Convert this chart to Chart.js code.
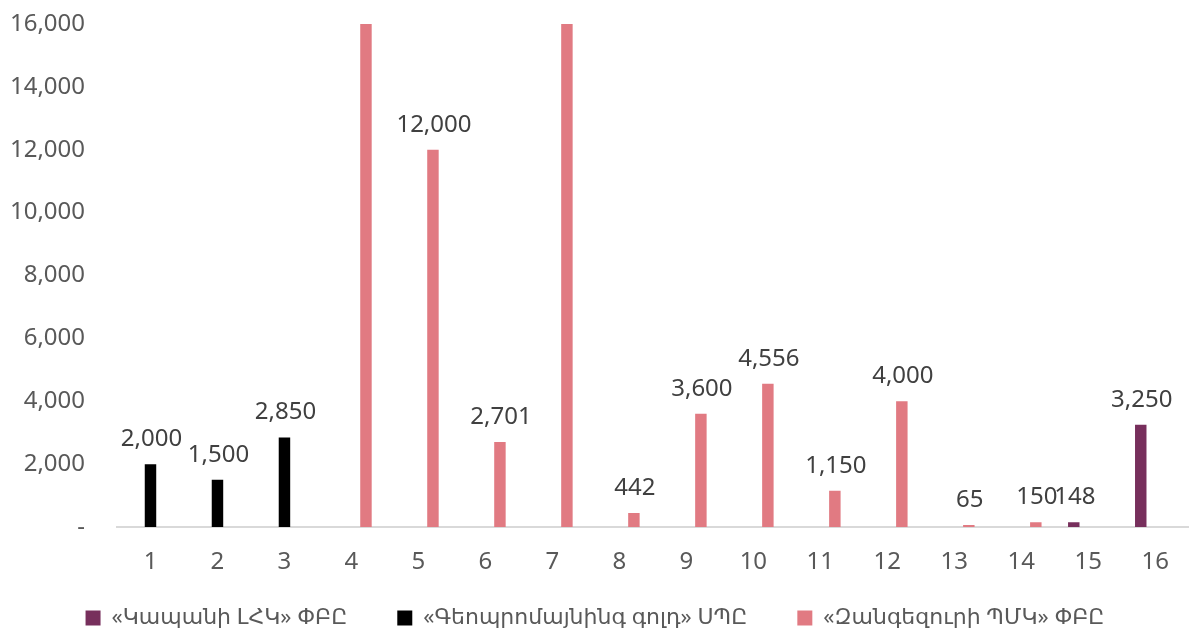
<!DOCTYPE html>
<html>
<head>
<meta charset="utf-8">
<script src="https://cdn.jsdelivr.net/npm/chart.js@4"></script>
<style>
  html, body { margin: 0; padding: 0; background: #fff; }
  #wrap { width: 1190px; height: 633px; }
</style>
</head>
<body>
<div id="wrap"><canvas id="chart"></canvas></div>
<script>
const categories = ["1", "2", "3", "4", "5", "6", "7", "8", "9", "10", "11", "12", "13", "14", "15", "16"];
const seriesNames = ["«Կապանի ԼՀԿ» ՓԲԸ", "«Գեոպրոմայնինգ գոլդ» ՍՊԸ", "«Զանգեզուրի ՊՄԿ» ՓԲԸ"];
const kapanValues = [null, null, null, null, null, null, null, null, null, null, null, null, null, null, 148, 3250];
const geoValues = [2000, 1500, 2850, null, null, null, null, null, null, null, null, null, null, null, null, null];
// bars 4 and 7 run past the top of the axis in the picture
const zangValues = [null, null, null, 16000, 12000, 2701, 16000, 442, 3600, 4556, 1150, 4000, 65, 150, null, null];
const seriesColors = ["#772f5c", "#000000", "#e17a82"];
const yMax = 16000;

const fontFamily = "'Noto Sans', 'DejaVu Sans', sans-serif";

const labelPlugin = {
  id: "barLabels",
  afterLayout(chart) {
    // let the x tick labels hang below the (shrunk) x scale box
    chart.scales.x.bottom = chart.height;
  },
  afterDatasetsDraw(chart) {
    const ctx = chart.ctx;
    ctx.save();
    ctx.font = "24px " + fontFamily;
    ctx.fillStyle = "#404040";
    ctx.textAlign = "center";
    ctx.textBaseline = "alphabetic";
    chart.data.datasets.forEach((ds, i) => {
      chart.getDatasetMeta(i).data.forEach((bar, j) => {
        const v = ds.data[j];
        if (v == null || v >= yMax) return;
        ctx.fillText(v.toLocaleString("en-US"), bar.x + 1, bar.y - 18);
      });
    });
    ctx.restore();
  }
};

const datasets = [kapanValues, geoValues, zangValues].map((vals, i) => ({
  label: seriesNames[i],
  data: vals,
  backgroundColor: seriesColors[i],
  barPercentage: 0.79,
  categoryPercentage: 0.65
}));

new Chart(document.getElementById("chart"), {
  type: "bar",
  data: { labels: categories, datasets: datasets },
  options: {
    responsive: true,
    maintainAspectRatio: false,
    animation: false,
    layout: { padding: { top: 24, right: 0, left: 0, bottom: 0 } },
    plugins: {
      legend: {
        position: "bottom",
        maxHeight: 76,
        labels: {
          boxWidth: 15,
          boxHeight: 15,
          padding: 50,
          color: "#595959",
          font: { family: fontFamily, size: 22 }
        }
      },
      tooltip: { enabled: false }
    },
    scales: {
      x: {
        grid: { display: false, drawTicks: false },
        border: { color: "#d9d9d9", width: 2 },
        ticks: { color: "#595959", font: { family: fontFamily, size: 24 }, padding: 21 },
        afterFit: scale => { scale.height = 30; }
      },
      y: {
        min: 0,
        max: yMax,
        grid: { display: false, drawTicks: false },
        border: { display: false },
        ticks: {
          stepSize: 2000,
          color: "#595959",
          padding: 32,
          font: { family: fontFamily, size: 24 },
          callback: v => v === 0 ? "-" : v.toLocaleString("en-US")
        },
        afterFit: scale => { scale.width = 117; scale.paddingTop = 0; scale.paddingBottom = 0; }
      }
    }
  },
  plugins: [labelPlugin]
});
</script>
</body>
</html>
